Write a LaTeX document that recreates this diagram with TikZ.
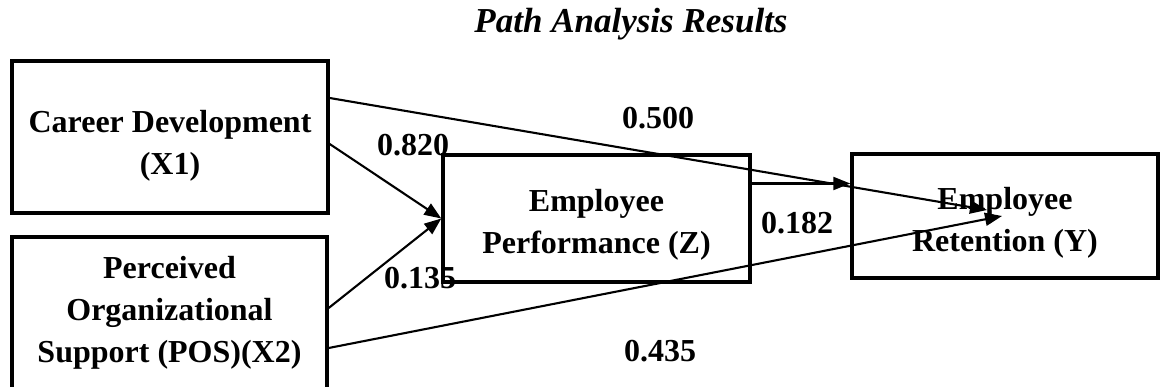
\documentclass[tikz,border=0pt]{standalone}
\usepackage{fontspec}
\setmainfont{Liberation Serif}
\usetikzlibrary{arrows.meta,calc}
\begin{document}
\begin{tikzpicture}[x=1pt,y=-1pt,
  box/.style={draw,line width=3.4pt,rectangle,inner sep=0pt},
  txt/.style={align=center,font=\fontsize{32}{42}\selectfont\bfseries,inner sep=0pt},
  conn/.style={line width=2.1pt,-{Triangle[length=17pt,width=13pt]}},
  coef/.style={font=\fontsize{32}{41}\selectfont\bfseries,inner sep=0pt},
  ttl/.style={font=\fontsize{35}{42}\selectfont\bfseries\itshape,inner sep=0pt}]
\useasboundingbox (0,0) rectangle (1160,387);
\clip (0,0) rectangle (1160,387);
\node[ttl,anchor=base] (title) at (631,33) {Path Analysis Results};
% boxes
\node[box,minimum width=316pt,minimum height=152pt,
  label={[txt,yshift=-9pt]center:Career Development\\(X1)}] (x1) at (170,137) {};
\node[box,minimum width=315pt,minimum height=170pt] (x2) at (169.5,322) {};
\node[txt] (x2t) at (169.5,313) {Perceived\\Organizational\\Support (POS)(X2)};
\node[box,minimum width=307pt,minimum height=127pt,
  label={[txt,yshift=-6pt]center:Employee\\Performance (Z)}] (z) at (596.5,218.5) {};
\node[box,minimum width=306pt,minimum height=124pt,
  label={[txt,yshift=-7pt]center:Employee\\Retention (Y)}] (y) at (1005,216) {};
% connectors
\draw[conn] ($(x1.east)+(0,-39)$) -- ($(y.center)+(-18,-6)$);
\draw[conn] ($(x1.east)+(0,7)$) -- (z.west);
\draw[conn] ($(x2.east)+(0,-14)$) -- (z.west);
\draw[conn] ($(x2.east)+(0,26)$) -- ($(y.center)+(-3,0)$);
\coordinate (zr) at ($(z.east)+(0,-35)$);
\draw[conn] (zr) -- (zr -| y.west);
% coefficients
\node[coef] (c1) at (413,145) {0.820};
\node[coef] (c2) at (420,278) {0.135};
\node[coef] (c3) at (658,118) {0.500};
\node[coef] (c4) at (797,223) {0.182};
\node[coef] (c5) at (660,351) {0.435};
\end{tikzpicture}
\end{document}
